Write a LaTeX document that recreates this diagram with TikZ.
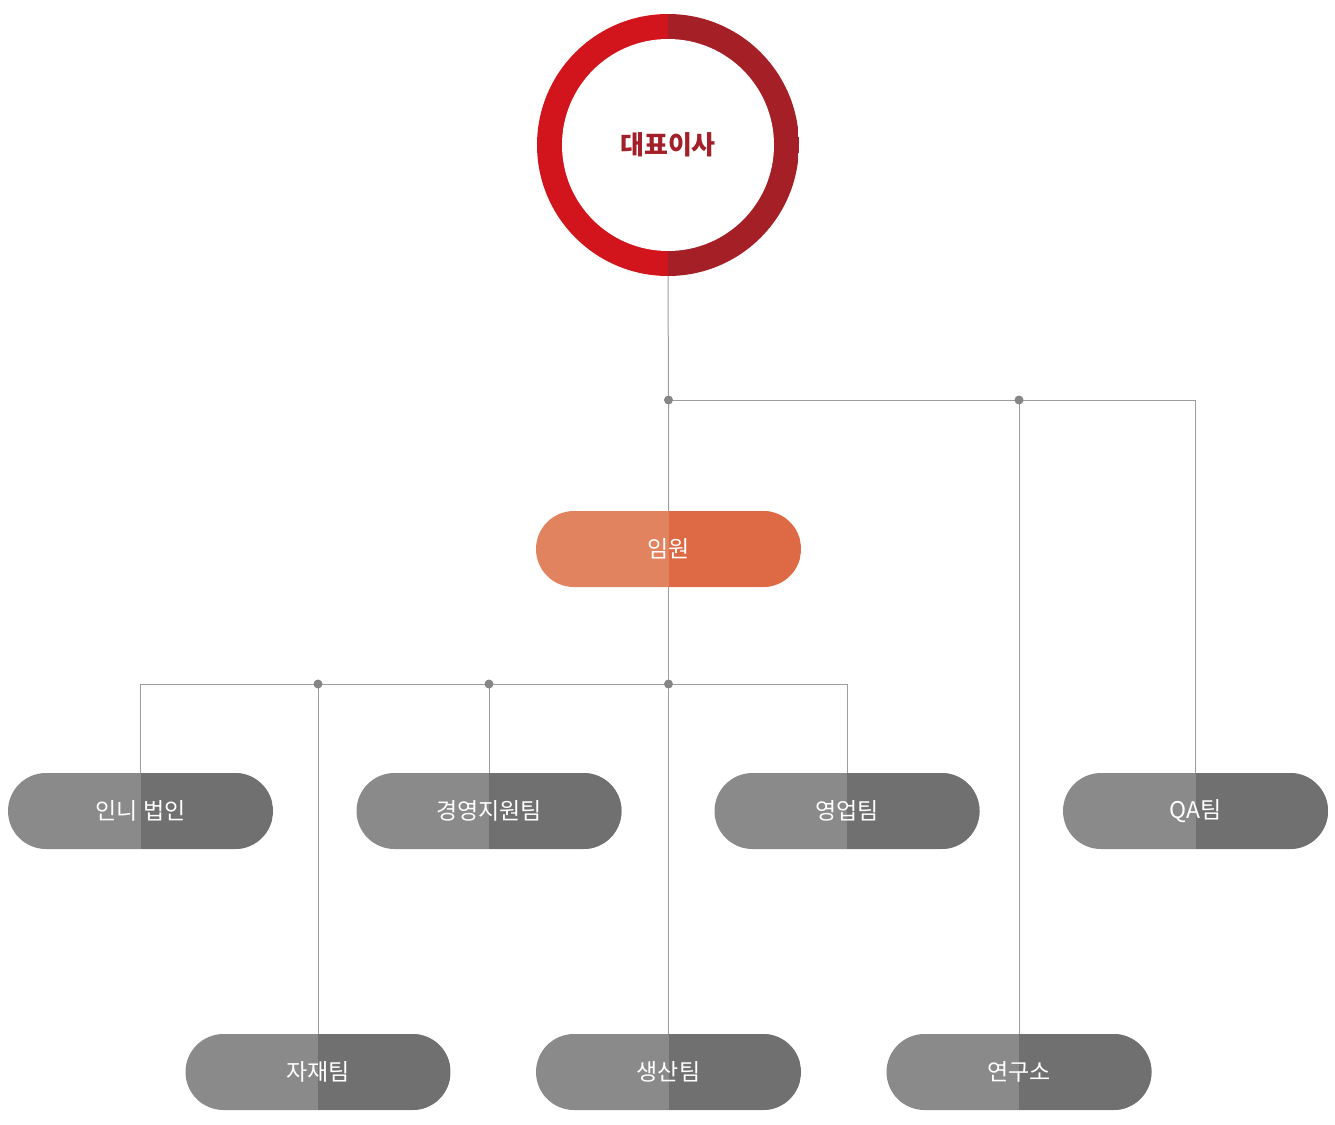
\documentclass[tikz,border=0pt]{standalone}
\usepackage{fontspec}
\setmainfont{Noto Sans CJK KR}
\definecolor{redL}{HTML}{D2141C}
\definecolor{redR}{HTML}{A51F27}
\definecolor{ceotxt}{HTML}{A3202A}
\definecolor{orL}{HTML}{E2835F}
\definecolor{orR}{HTML}{DD6A45}
\definecolor{grL}{HTML}{8A8A8A}
\definecolor{grR}{HTML}{707070}
\definecolor{linec}{HTML}{9E9E9E}
\definecolor{dotc}{HTML}{868686}
\begin{document}
\begin{tikzpicture}[x=1pt,y=-1pt,
  pillbase/.style={rectangle, rounded corners=38pt, minimum width=265pt, minimum height=76pt,
    inner sep=0pt, text=white, font=\fontsize{23}{26}\selectfont},
  graypill/.style={pillbase, fill=grL,
    path picture={\fill[grR, sharp corners] (path picture bounding box.north) rectangle (path picture bounding box.south east);}},
  orangepill/.style={pillbase, fill=orL,
    path picture={\fill[orR, sharp corners] (path picture bounding box.north) rectangle (path picture bounding box.south east);}},
  conn/.style={draw=linec, line width=1pt},
  jdot/.style={fill=dotc}
]
\useasboundingbox (0,0) rectangle (1335,1124);

% CEO ring
\node[circle, minimum size=262pt, inner sep=0pt,
  path picture={
    \fill[redL] (path picture bounding box.north west) rectangle (path picture bounding box.south);
    \fill[redR] (path picture bounding box.north) rectangle (path picture bounding box.south east);
    \fill[white] (path picture bounding box.center) circle (106pt);
  }] (ceo) at (668,145) {};
\node[text=ceotxt, font=\fontsize{26}{29}\selectfont\bfseries] (ceotext) at (668,145) {대표이사};

% Executive
\node[orangepill] (im) at (668.5,549) {임원};

% Middle row
\node[graypill] (inni) at (140.5,811) {인니 법인};
\node[graypill] (mgmt) at (489,811) {경영지원팀};
\node[graypill] (sales) at (847,811) {영업팀};
\node[graypill] (qa) at (1195.5,811) {QA팀};

% Bottom row
\node[graypill] (mat) at (318,1072) {자재팀};
\node[graypill] (prod) at (668.5,1072) {생산팀};
\node[graypill] (rnd) at (1019,1072) {연구소};

% junction coordinates
\coordinate (d1) at (im.north |- 0,400);
\coordinate (d3) at (rnd.north |- d1);
\coordinate (d2) at (im.south |- 0,684);
\coordinate (dmat) at (mat.north |- d2);
\coordinate (dmgmt) at (mgmt.north |- d2);

% connectors
\draw[conn] (ceo.south) -- (d1) -- (im.north);
\draw[conn] (d1) -| (qa.north);
\draw[conn] (d3) -- (rnd.north);
\draw[conn] (im.south) -- (d2) -- (prod.north);
\draw[conn] (d2) -| (inni.north);
\draw[conn] (d2) -| (sales.north);
\draw[conn] (dmat) -- (mat.north);
\draw[conn] (dmgmt) -- (mgmt.north);

% junction dots
\foreach \p in {d1,d3,d2,dmat,dmgmt} \fill[jdot] (\p) circle (4.5pt);
\end{tikzpicture}
\end{document}
